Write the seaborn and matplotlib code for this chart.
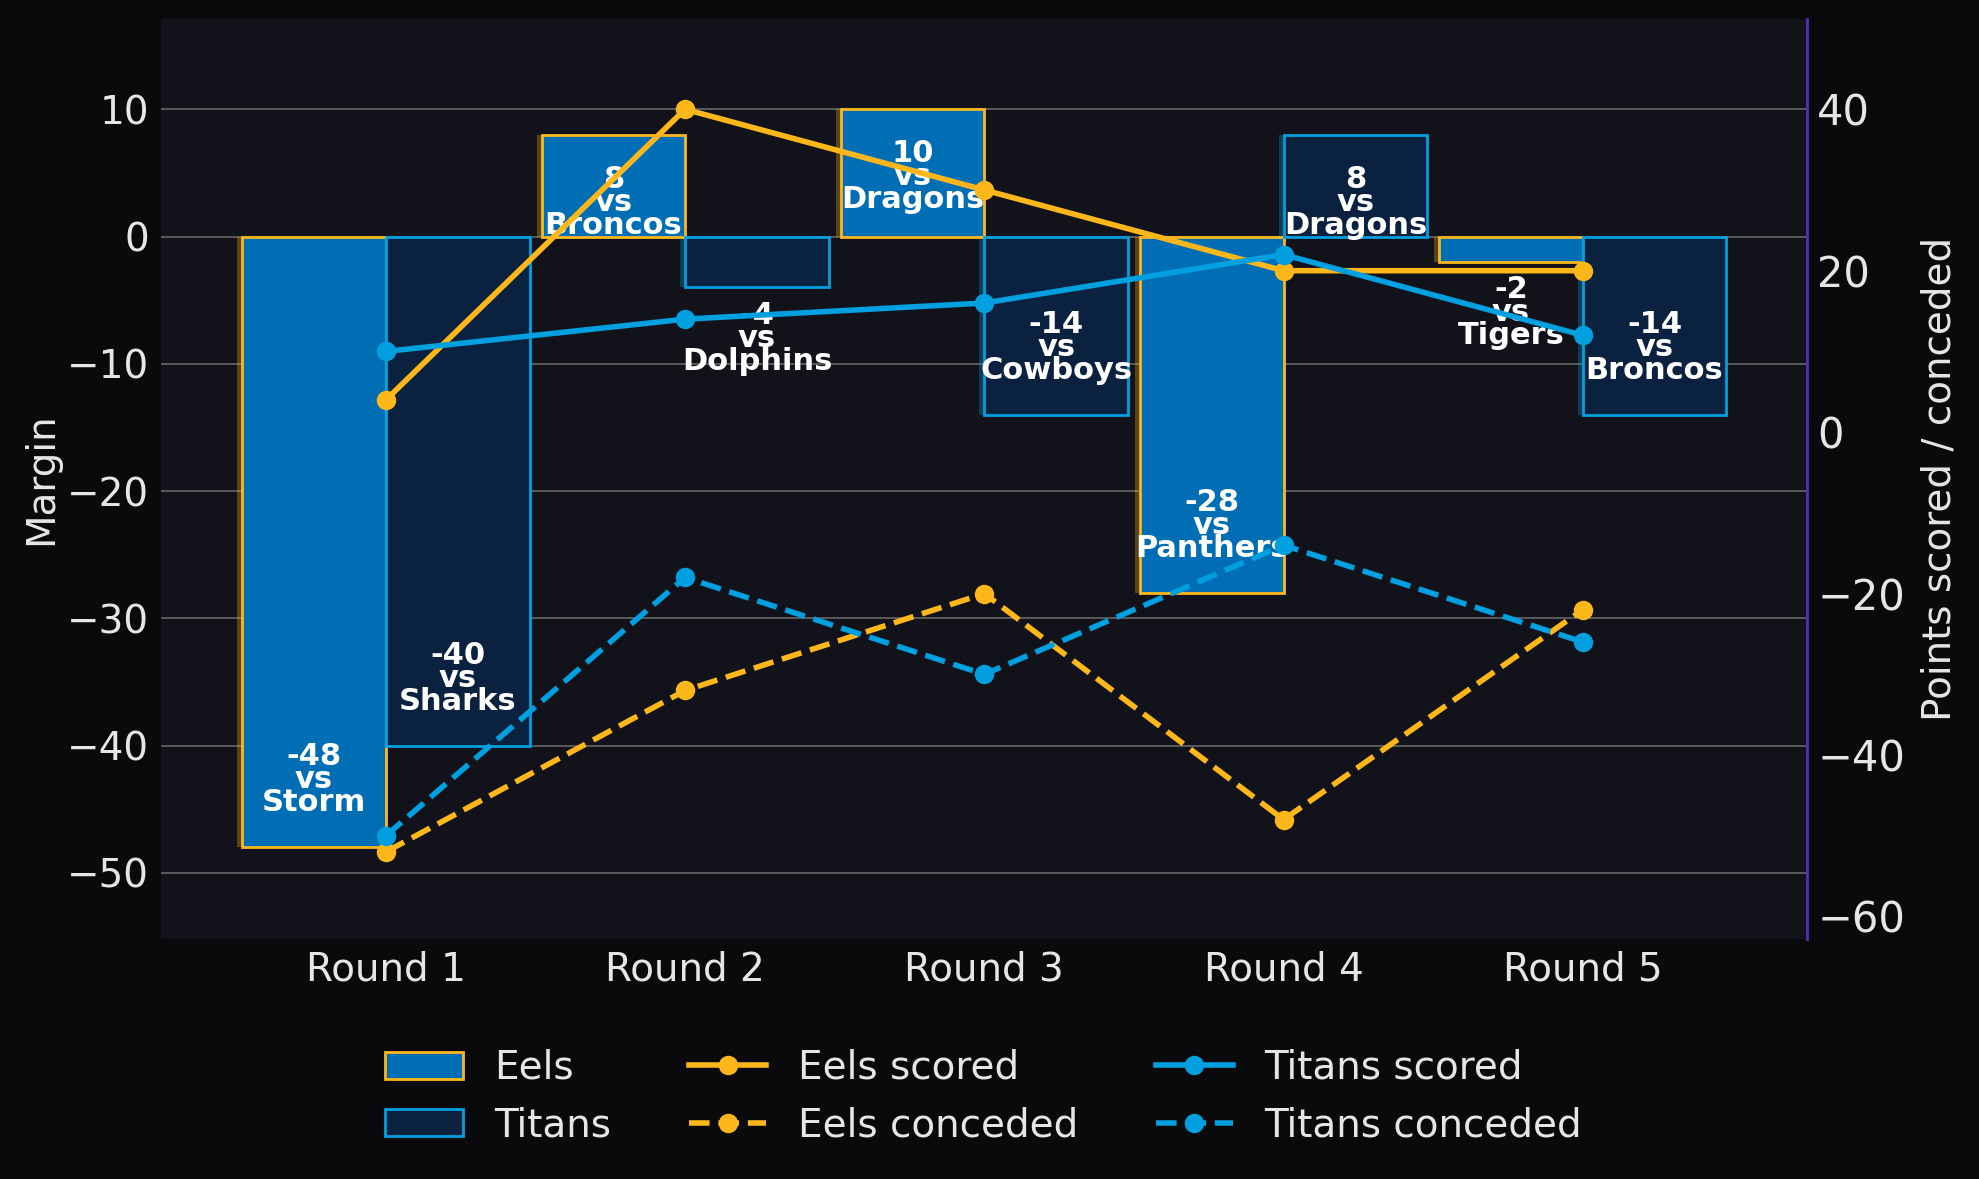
import numpy as np
import pandas as pd
import matplotlib
matplotlib.use('Agg')
import matplotlib.pyplot as plt
import matplotlib.transforms as mtransforms
from matplotlib.patches import Patch, Rectangle
from matplotlib.lines import Line2D
from matplotlib.ticker import MultipleLocator
import seaborn as sns

# datos
rondas = ['Round 1', 'Round 2', 'Round 3', 'Round 4', 'Round 5']
margen_eels = [-48, 8, 10, -28, -2]
margen_titans = [-40, -4, -14, 8, -14]
rivales_eels = ['Storm', 'Broncos', 'Dragons', 'Panthers', 'Tigers']
rivales_titans = ['Sharks', 'Dolphins', 'Cowboys', 'Dragons', 'Broncos']
eels_anotados = [4, 40, 30, 20, 20]
eels_recibidos = [52, 32, 20, 48, 22]
titans_anotados = [10, 14, 16, 22, 12]
titans_recibidos = [50, 18, 30, 14, 26]

fondo = '#0a0a0d'
panel = '#12131a'
texto = '#e6e6e6'
oro = '#FDB71A'
azul_eels = '#006EB5'
celeste = '#00A0E0'
azul_titans = '#0B2140'
morado = '#5B2BC0'

fig = plt.figure(figsize=(9.895, 5.895), dpi=200, facecolor=fondo)
ax = fig.add_axes([0.0816, 0.2035, 0.9132 - 0.0816, 0.984 - 0.2035])
ax.set_facecolor(panel)
ax.set_axisbelow(True)
ax.yaxis.grid(True, color='#5a5a5a', lw=0.7)

barras = pd.DataFrame({
    'ronda': rondas * 2,
    'margen': margen_eels + margen_titans,
    'equipo': ['Eels'] * len(rondas) + ['Titans'] * len(rondas),
})
sns.barplot(data=barras, x='ronda', y='margen', hue='equipo',
            palette={'Eels': azul_eels, 'Titans': azul_titans},
            width=0.96, saturation=1, errorbar=None, legend=False,
            ax=ax, zorder=2)

sombra = mtransforms.offset_copy(ax.transData, fig=fig, x=-5, y=0, units='dots')
for cont, borde, rivales in zip(ax.containers, [oro, celeste], [rivales_eels, rivales_titans]):
    for barra, rival in zip(cont, rivales):
        barra.set_edgecolor(borde)
        barra.set_linewidth(1.0)
        s = Rectangle(barra.get_xy(), barra.get_width(), barra.get_height(),
                      transform=sombra, facecolor=borde, alpha=0.3, lw=0, zorder=1.5)
        ax.add_patch(s)
        v = barra.get_height()
        xc = barra.get_x() + barra.get_width() / 2
        y = v - np.sign(v) * 5.3 if abs(v) >= 8 else v - 4
        ax.text(xc, y, f'{int(v)}\nvs\n{rival}', ha='center', va='center',
                color='white', fontsize=11, fontweight='bold',
                linespacing=0.74, zorder=3)

ax2 = ax.twinx()
series = ['Eels scored', 'Eels conceded', 'Titans scored', 'Titans conceded']
lineas = pd.DataFrame({
    'x': list(range(len(rondas))) * 4,
    'puntos': eels_anotados + [-c for c in eels_recibidos]
              + titans_anotados + [-c for c in titans_recibidos],
    'serie': [s for s in series for _ in rondas],
})
sns.lineplot(data=lineas, x='x', y='puntos', hue='serie', style='serie',
             palette={'Eels scored': oro, 'Eels conceded': oro,
                      'Titans scored': celeste, 'Titans conceded': celeste},
             dashes={'Eels scored': '', 'Eels conceded': (3.7, 1.6),
                     'Titans scored': '', 'Titans conceded': (3.7, 1.6)},
             markers={s: 'o' for s in series},
             lw=2, markersize=7, markeredgewidth=0, legend=False, ax=ax2)

ax.set_xlim(-0.75, 4.75)
ax.set_ylim(-55.2, 17.1)
ax2.set_ylim(-62.8, 51.2)
ax.yaxis.set_major_locator(MultipleLocator(10))
ax2.yaxis.set_major_locator(MultipleLocator(20))

for lado in ax.spines.values():
    lado.set_visible(False)
for nombre, lado in ax2.spines.items():
    lado.set_visible(nombre == 'right')
ax2.spines['right'].set_color(morado)
ax2.spines['right'].set_linewidth(1.0)

ax.tick_params(length=0, colors=texto, labelsize=14)
ax.tick_params(axis='x', pad=4)
ax.tick_params(axis='y', pad=4.5)
ax2.tick_params(length=0, colors=texto, labelsize=15, pad=3.6)
ax.set_xlabel('')
ax2.set_xlabel('')
ax.set_ylabel('Margin', color=texto, fontsize=14, labelpad=2.5)
ax2.set_ylabel('Points scored / conceded', color=texto, fontsize=14, labelpad=5.5)

manejadores = [
    Patch(facecolor=azul_eels, edgecolor=oro, lw=1),
    Patch(facecolor=azul_titans, edgecolor=celeste, lw=1),
    Line2D([], [], color=oro, lw=2, marker='o', ms=7, mew=0),
    Line2D([], [], color=oro, lw=2, ls='--', marker='o', ms=7, mew=0),
    Line2D([], [], color=celeste, lw=2, marker='o', ms=7, mew=0),
    Line2D([], [], color=celeste, lw=2, ls='--', marker='o', ms=7, mew=0),
]
etiquetas = ['Eels', 'Titans'] + series
fig.legend(manejadores, etiquetas, loc='center', bbox_to_anchor=(0.497, 0.070),
           ncol=3, frameon=False, fontsize=14, labelcolor=texto)

plt.savefig('out.png', facecolor=fondo)
plt.close()
